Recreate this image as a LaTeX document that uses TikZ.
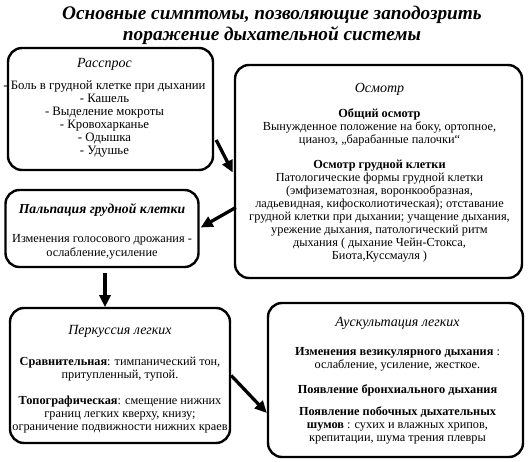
\documentclass[tikz,border=0pt]{standalone}
\usepackage{fontspec}
\setmainfont{Liberation Serif}
\usetikzlibrary{arrows.meta,calc}
\begin{document}
\begin{tikzpicture}[x=1pt,y=-1pt,
  box/.style={draw,line width=2.4pt,rounded corners=14pt,inner sep=0pt},
  txt/.style={align=center,inner sep=0pt,font=\fontsize{12.3}{13}\selectfont},
  arr/.style={line width=3.3pt,-{Triangle[length=12pt,width=11pt]}}]
\useasboundingbox (0,0) rectangle (528,461);
\node[align=center,font=\fontsize{19.3}{21}\selectfont\bfseries\itshape] (title) at (272,25)
  {Основные симптомы, позволяющие заподозрить\\поражение дыхательной системы};
% boxes
\node[box,minimum width=205pt,minimum height=122pt] (r) at (110.5,109) {};
\node[box,minimum width=287pt,minimum height=213pt] (o) at (378.5,171.5) {};
\node[box,minimum width=193pt,minimum height=77pt] (p) at (102,228.5) {};
\node[box,minimum width=220pt,minimum height=135pt] (k) at (120,375.5) {};
\node[box,minimum width=255pt,minimum height=154pt] (a) at (395.5,380) {};
% texts
\node[txt,font=\fontsize{12.8}{13}\selectfont] (rt) at ($(r.center)+(-6,-1.5)$)
  {{\fontsize{14}{14}\selectfont\itshape Расспрос}\\[9pt]
   - Боль в грудной клетке при дыхании\\ - Кашель\\ - Выделение мокроты\\
   - Кровохарканье\\ - Одышка\\ - Удушье};
\node[txt] (ot) at ($(o.center)+(1,1)$)
  {{\fontsize{14}{14}\selectfont\itshape Осмотр}\\[12pt]
   \textbf{Общий осмотр}\\ Вынужденное положение на боку, ортопное,\\
   цианоз, „барабанные палочки“\\[12pt]
   \textbf{Осмотр грудной клетки}\\ Патологические формы грудной клетки\\
   (эмфизематозная, воронкообразная,\\ ладьевидная, кифосколиотическая); отставание\\
   грудной клетки при дыхании; учащение дыхания,\\ урежение дыхания, патологический ритм\\
   дыхания ( дыхание Чейн-Стокса,\\ Биота,Куссмауля )};
\node[txt] (pt) at ($(p.center)+(0,3)$)
  {{\fontsize{13.7}{14}\selectfont\bfseries\itshape Пальпация грудной клетки}\\[16pt]
   Изменения голосового дрожания -\\[1pt] ослабление,усиление};
\node[txt] (kt) at ($(k.center)+(0,4)$)
  {{\fontsize{14}{14}\selectfont\itshape Перкуссия легких}\\[18pt]
   \textbf{Сравнительная}: тимпанический тон,\\ притупленный, тупой.\\[13pt]
   \textbf{Топографическая}: смещение нижних\\ границ легких кверху, книзу;\\
   ограничение подвижности нижних краев};
\node[txt] (at) at ($(a.center)+(2,1)$)
  {{\fontsize{14}{14}\selectfont\itshape Аускультация легких}\\[16pt]
   \textbf{Изменения везикулярного дыхания} :\\ ослабление, усиление, жесткое.\\[12pt]
   \textbf{Появление бронхиального дыхания}\\[9pt]
   \textbf{Появление побочных дыхательных}\\ \textbf{шумов} : сухих и влажных хрипов,\\
   крепитации, шума трения плевры};
% arrows
\draw[arr] ($(r.east)+(2,31)$) -- ($(o.west)+(-1,1)$);
\draw[arr] ($(o.west)+(2,36)$) -- ($(p.east)+(1,-1)$);
\draw[arr] ($(p.south)+(3,5)$) -- ($(p.south)+(3,39)$);
\draw[arr] ($(k.east)+(0,0)$) -- ($(a.west)+(0,33)$);
\end{tikzpicture}
\end{document}
